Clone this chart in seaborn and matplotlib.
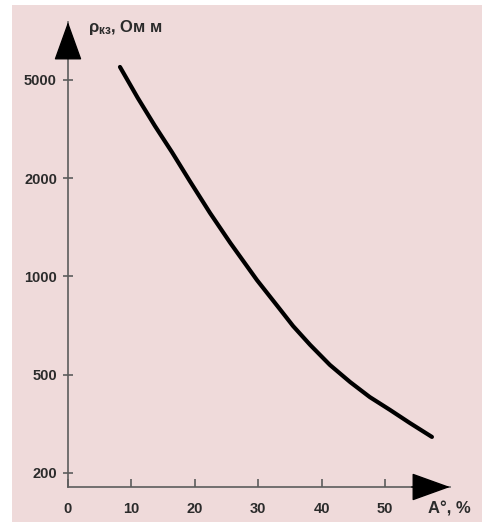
"""
Specific resistance of the coal vs. ash content (log-like ordinal y axis)
"""

import numpy as np
import matplotlib
import matplotlib.pyplot as plt
import seaborn as sns
from matplotlib.patches import Rectangle
from matplotlib.ticker import NullLocator

# data
ash = [8.2, 11.0, 13.7, 16.4, 19.2, 22.4, 25.6, 29.8, 33.4, 35.5,
       38.2, 41.3, 44.5, 47.6, 50.8, 53.9, 57.4]
resist = [5645, 4230, 3260, 2550, 1962, 1565, 1267, 975, 795, 705,
          617, 536, 467, 406, 360, 319, 280]

x_ticks = [0, 10, 20, 30, 40, 50]
y_ticks = [200, 500, 1000, 2000, 5000]
y_ticklabels = ["200", "500", "1000", "2000", "5000"]

PINK = "#efdada"
AXIS_GREY = "#5c5c5c"
TEXT = "#2b2b2b"

# y ticks are drawn at equal spacing, values in between are log-interpolated
L = np.log10(y_ticks)
IDX = np.arange(len(y_ticks), dtype=float)


def y_forward(v):
    l = np.log10(np.clip(np.asarray(v, dtype=float), 1e-9, None))
    out = np.interp(l, L, IDX)
    out = np.where(l < L[0], (l - L[0]) / (L[1] - L[0]), out)
    out = np.where(l > L[-1], IDX[-1] + (l - L[-1]) / (L[-1] - L[-2]), out)
    return out


def y_inverse(i):
    i = np.asarray(i, dtype=float)
    l = np.interp(i, IDX, L)
    l = np.where(i < 0, L[0] + i * (L[1] - L[0]), l)
    l = np.where(i > IDX[-1], L[-1] + (i - IDX[-1]) * (L[-1] - L[-2]), l)
    return 10 ** l


def main():
    sns.set_theme(style="ticks")
    plt.rcParams["font.family"] = ["Liberation Sans", "DejaVu Sans"]
    plt.rcParams["mathtext.fontset"] = "custom"
    plt.rcParams["mathtext.rm"] = "Liberation Sans:bold"
    plt.rcParams["mathtext.it"] = "Liberation Sans:bold"
    plt.rcParams["mathtext.bf"] = "Liberation Sans:bold"

    W, H = 482, 522
    fig = plt.figure(figsize=(W / 100, H / 100), dpi=100, facecolor="white")
    fig.add_artist(Rectangle((12 / W, 0), 1 - 12 / W, (H - 5) / H,
                             transform=fig.transFigure, facecolor=PINK,
                             edgecolor="none", zorder=-1))

    ax = fig.add_axes([68 / W, (H - 487) / H, (450 - 68) / W, (487 - 22) / H])
    ax.set_facecolor("none")

    sns.lineplot(x=ash, y=resist, ax=ax, color="black", linewidth=3,
                 solid_capstyle="round", solid_joinstyle="round", sort=False)

    ax.set_yscale("function", functions=(y_forward, y_inverse))
    ax.set_xlim(0, 60.25)
    ax.set_ylim(float(y_inverse(-0.1425)), float(y_inverse(4.59)))

    ax.set_xticks(x_ticks)
    ax.set_xticklabels([str(t) for t in x_ticks])
    ax.set_yticks(y_ticks)
    ax.set_yticklabels(y_ticklabels)
    ax.yaxis.set_minor_locator(NullLocator())
    ax.xaxis.set_minor_locator(NullLocator())
    ax.set_xlabel("")
    ax.set_ylabel("")

    for side in ["top", "right"]:
        ax.spines[side].set_visible(False)
    for side in ["left", "bottom"]:
        ax.spines[side].set_color(AXIS_GREY)
        ax.spines[side].set_linewidth(1.2)

    ax.tick_params(axis="y", direction="inout", length=6.5, width=1.2,
                   color=AXIS_GREY, pad=4.7, labelsize=10.5, labelcolor=TEXT)
    ax.tick_params(axis="x", direction="in", length=6, width=1.2,
                   color=AXIS_GREY, pad=10.5, labelsize=10.5, labelcolor=TEXT)
    for lab in ax.get_xticklabels() + ax.get_yticklabels():
        lab.set_fontweight("bold")

    # arrow heads at the ends of both axes
    head = dict(arrowstyle="-|>,head_length=1.25,head_width=0.45",
                color="black", mutation_scale=20, shrinkA=0, shrinkB=0)
    ax.annotate("", xy=(0, 1), xytext=(0, 0.93), xycoords="axes fraction",
                arrowprops=head, annotation_clip=False)
    ax.annotate("", xy=(1, 0), xytext=(0.9, 0), xycoords="axes fraction",
                arrowprops=head, annotation_clip=False)

    # axis titles
    fig.text(88 / W, (H - 32) / H, "$ρ_{кз}$, Ом м", fontsize=12,
             fontweight="bold", color=TEXT, va="baseline", ha="left")
    fig.text(428 / W, (H - 513) / H, "A°, %", fontsize=12,
             fontweight="bold", color=TEXT, va="baseline", ha="left")

    plt.savefig("out.png", dpi=100, facecolor=fig.get_facecolor())
    plt.close()


if __name__ == "__main__":
    main()
